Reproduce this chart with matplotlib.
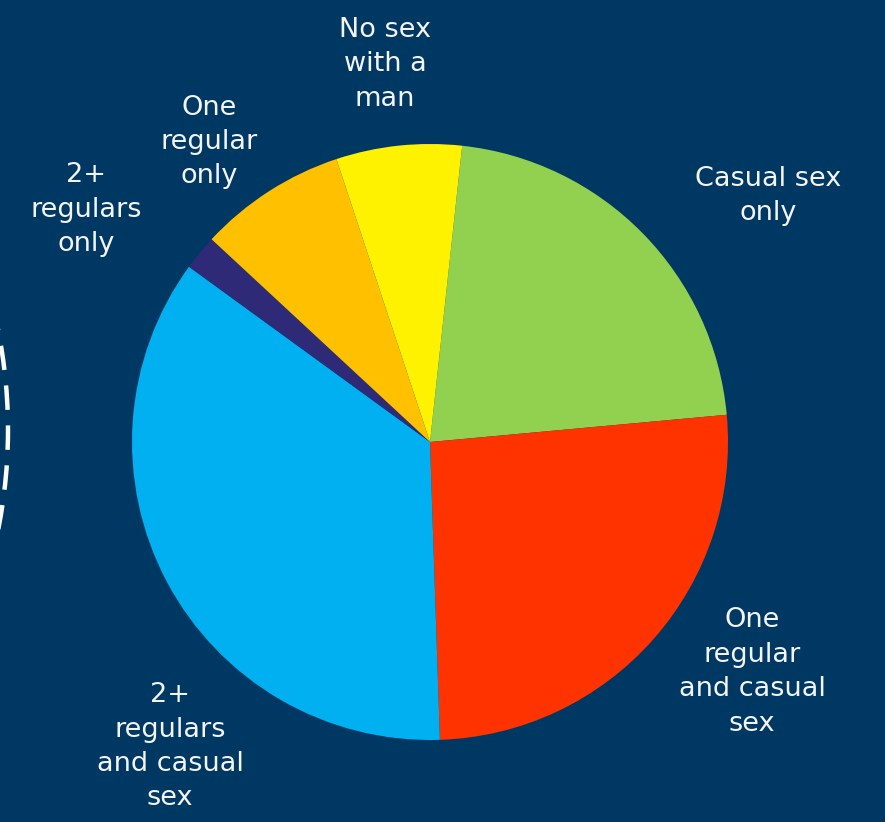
import matplotlib
matplotlib.use("Agg")
import matplotlib.pyplot as plt
from matplotlib.patches import Arc

# Sexual partnership categories (percent of respondents), clockwise from the top
categories = [
    "Casual sex\nonly",
    "One\nregular\nand casual\nsex",
    "2+\nregulars\nand casual\nsex",
    "2+\nregulars\nonly",
    "One\nregular\nonly",
    "No sex\nwith a\nman",
]
values = [21.8, 25.9, 35.5, 1.9, 8.0, 6.8]
colors = ["#92D050", "#FF3300", "#00B0F0", "#2E2A78", "#FFC000", "#FFF200"]

# Label anchor points in pie-radius units
label_pos = [
    (1.134, 0.826),
    (1.081, -0.772),
    (-0.872, -1.023),
    (-1.154, 0.779),
    (-0.742, 1.007),
    (-0.151, 1.268),
]

BG = "#003864"
W, H = 885, 822
fig = plt.figure(figsize=(W / 100, H / 100), dpi=100, facecolor=BG)

# Pie centre and radius in pixels
cx, cy, r = 430, 442, 298
ax = fig.add_axes([(cx - r) / W, (H - cy - r) / H, 2 * r / W, 2 * r / H])
ax.set_facecolor(BG)
ax.pie(values, colors=colors, startangle=90 - 6.2, counterclock=False,
       radius=1.0, wedgeprops=dict(linewidth=0))
ax.set_xlim(-1, 1)
ax.set_ylim(-1, 1)
ax.set_aspect("equal")
ax.axis("off")

for text, (x, y) in zip(categories, label_pos):
    ax.text(x, y, text, ha="center", va="center", color="#F4F4F4",
            fontsize=19.5, family="DejaVu Sans", linespacing=1.42, clip_on=False)

# Dashed outline of a neighbouring circle at the left edge
over = fig.add_axes([0, 0, 1, 1])
over.set_xlim(0, W)
over.set_ylim(H, 0)
over.axis("off")
Rc = 510
over.add_patch(Arc((8 - Rc, 430), 2 * Rc, 2 * Rc, theta1=-14, theta2=14,
                   color="white", lw=3.2, linestyle=(0, (5.5, 3.5))))

fig.savefig("out.png", dpi=100, facecolor=BG)
